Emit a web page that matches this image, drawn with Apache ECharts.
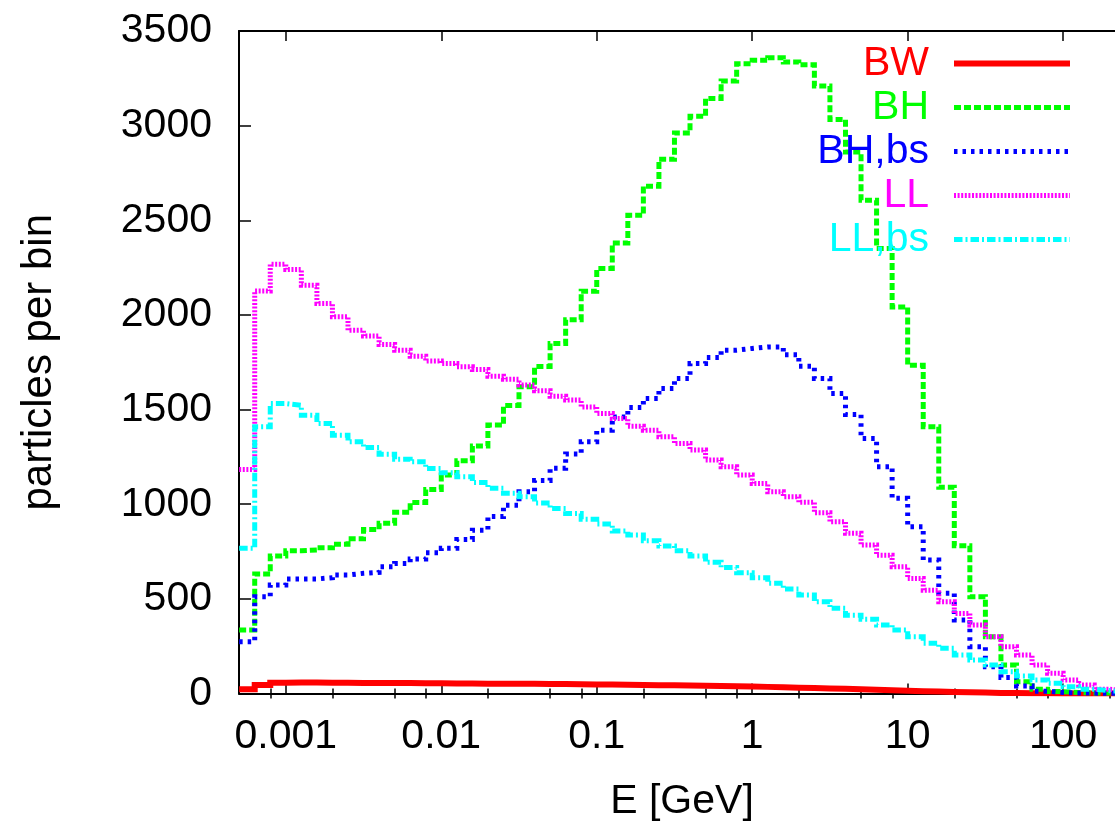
<!DOCTYPE html>
<html><head><meta charset="utf-8">
<script src="https://cdn.jsdelivr.net/npm/echarts@6/dist/echarts.min.js"></script>
<style>html,body{margin:0;padding:0;background:#fff}#c{width:1115px;height:824px}</style>
</head><body><div id="c"></div>
<script>
// lower bin edges (10 bins per decade), last entry is upper edge of last bin
const binEdges = [0.0005012,0.000631,0.0007943,0.001,0.001259,0.001585,0.001995,0.002512,0.003162,0.003981,
  0.005012,0.00631,0.007943,0.01,0.01259,0.01585,0.01995,0.02512,0.03162,0.03981,
  0.05012,0.0631,0.07943,0.1,0.1259,0.1585,0.1995,0.2512,0.3162,0.3981,
  0.5012,0.631,0.7943,1,1.259,1.585,1.995,2.512,3.162,3.981,
  5.012,6.31,7.943,10,12.59,15.85,19.95,25.12,31.62,39.81,
  50.12,63.1,79.43,100,125.9,158.5,199.5,251.2];
const seriesNames = ['BW','BH','BH,bs','LL','LL,bs'];
const bw = [22,45,57,58,58,57,57,56,56,55,55,54,54,53,53,52,52,51,51,50,
  50,49,48,47,46,45,44,43,42,41,40,38,37,35,33,31,29,27,25,22,
  20,17,15,12,10,8,6,5,3,2,1,1,0,0,0,0,0];
const bh = [335,631,726,754,758,770,789,817,867,899,957,1009,1078,1154,1229,1307,1418,1522,1620,1727,
  1849,1974,2125,2245,2380,2526,2680,2822,2961,3049,3143,3236,3327,3345,3359,3336,3322,3210,3032,2861,
  2606,2351,2042,1734,1409,1089,780,511,300,150,62,22,10,5,3,2,1];
const bhbs = [274,511,573,605,605,612,626,635,640,670,687,710,744,767,814,863,935,995,1066,1125,
  1190,1265,1330,1391,1461,1511,1559,1611,1664,1743,1775,1814,1823,1831,1831,1790,1729,1664,1585,1474,
  1347,1198,1031,881,705,529,388,247,141,85,40,12,5,3,2,1,1];
const ll = [1184,2127,2268,2240,2157,2060,1990,1919,1889,1844,1814,1782,1756,1743,1726,1712,1676,1660,1630,1600,
  1570,1550,1514,1479,1453,1412,1391,1356,1321,1286,1233,1198,1154,1110,1066,1040,1010,955,907,846,
  784,731,670,608,546,485,423,362,300,247,203,150,107,71,45,22,15];
const llbs = [767,1409,1532,1523,1470,1427,1365,1330,1300,1264,1237,1224,1189,1166,1145,1115,1085,1058,1039,1007,
  978,951,920,895,858,837,807,779,754,726,693,666,638,611,582,552,520,485,450,414,
  392,362,335,300,265,239,203,177,150,115,92,71,54,36,22,15,10];
const xMajorTicks = [0.001,0.01,0.1,1,10,100];
const xMajorLabels = ['0.001','0.01','0.1','1','10','100'];
const xMinorTicks = [0.0008,0.002,0.005,0.008,0.02,0.05,0.08,0.2,0.5,0.8,2,5,8,20,50,80,200];

const FONT = 'Liberation Sans';
const FS = 41;
const colors = ['#ff0000','#00ff00','#0000ff','#ff00ff','#00ffff'];
const dashes = ['solid',[7,3],[3.5,5],[2,1.6],[8.5,3,2,3]];
const widths = [6,5,5,5,5];
const values = [bw,bh,bhbs,ll,llbs];

function steps(vals){
  const d = vals.map((v,i)=>[binEdges[i], v]);
  d.push([binEdges[vals.length], vals[vals.length-1]]);
  return d;
}
function majorLabel(v){
  let best = 0;
  for (let i = 0; i < xMajorTicks.length; i++) {
    if (Math.abs(Math.log10(v) - Math.log10(xMajorTicks[i])) < Math.abs(Math.log10(v) - Math.log10(xMajorTicks[best]))) best = i;
  }
  return xMajorLabels[best];
}

const xBase = {type:'log', logBase:10, min:0.0005, max:250, gridIndex:0,
  splitLine:{show:false}, minorTick:{show:false},
  axisLine:{show:true, onZero:false, lineStyle:{color:'#000', width:2}}};
const tickStyle = {color:'#000', width:1.5};

const chart = echarts.init(document.getElementById('c'), null, {renderer:'canvas'});
chart.setOption({
  animation:false,
  backgroundColor:'#fff',
  textStyle:{fontFamily:FONT},
  grid:{left:239, right:-10, top:31, bottom:130.5, containLabel:false, outerBoundsMode:'none'},
  xAxis:[
    Object.assign({}, xBase, {position:'bottom',
      axisTick:{show:true, inside:true, length:10, lineStyle:tickStyle, customValues:xMajorTicks},
      axisLabel:{show:true, customValues:xMajorTicks, margin:23, fontSize:FS, color:'#000', fontFamily:FONT,
        formatter:majorLabel},
      name:'E [GeV]', nameLocation:'middle', nameGap:88,
      nameTextStyle:{fontSize:FS, color:'#000', fontFamily:FONT}}),
    Object.assign({}, xBase, {position:'bottom', axisLine:{show:false},
      axisTick:{show:true, inside:true, length:5, lineStyle:tickStyle, customValues:xMinorTicks},
      axisLabel:{show:false}}),
    Object.assign({}, xBase, {position:'top',
      axisTick:{show:true, inside:true, length:10, lineStyle:tickStyle, customValues:xMajorTicks},
      axisLabel:{show:false}}),
    Object.assign({}, xBase, {position:'top', axisLine:{show:false},
      axisTick:{show:true, inside:true, length:5, lineStyle:tickStyle, customValues:xMinorTicks},
      axisLabel:{show:false}})
  ],
  yAxis:[
    {type:'value', min:0, max:3500, interval:500, position:'left',
      axisLine:{show:true, onZero:false, lineStyle:{color:'#000', width:2}},
      axisTick:{show:true, inside:true, length:12, lineStyle:tickStyle},
      axisLabel:{margin:27, fontSize:FS, color:'#000', fontFamily:FONT, formatter:function(v){return String(v);}},
      splitLine:{show:false},
      name:'particles per bin', nameLocation:'middle', nameGap:179, nameRotate:90,
      nameTextStyle:{fontSize:42, color:'#000', fontFamily:FONT}},
    {type:'value', min:0, max:3500, interval:500, position:'right',
      axisLine:{show:true, onZero:false, lineStyle:{color:'#000', width:2}},
      axisTick:{show:false},
      axisLabel:{show:false}, splitLine:{show:false}}
  ],
  legend:{orient:'vertical', right:37, top:38, align:'right', itemWidth:116, itemHeight:14, itemGap:3,
    padding:5, selectedMode:false,
    itemStyle:{opacity:0},
    textStyle:{fontSize:FS, fontFamily:FONT, padding:[0,20,0,0]},
    data: seriesNames.map((n,i)=>({name:n, textStyle:{color:colors[i]}, lineStyle:{width:widths[i]}}))},
  series: seriesNames.map((n,i)=>({
    name:n, type:'line', step:'end', xAxisIndex:0, yAxisIndex:0,
    symbol:'none', showSymbol:false,
    lineStyle:{color:colors[i], width:widths[i], type:dashes[i], cap:'butt', join:'miter'},
    itemStyle:{color:colors[i]},
    data: steps(values[i])
  }))
});
</script>
</body></html>
